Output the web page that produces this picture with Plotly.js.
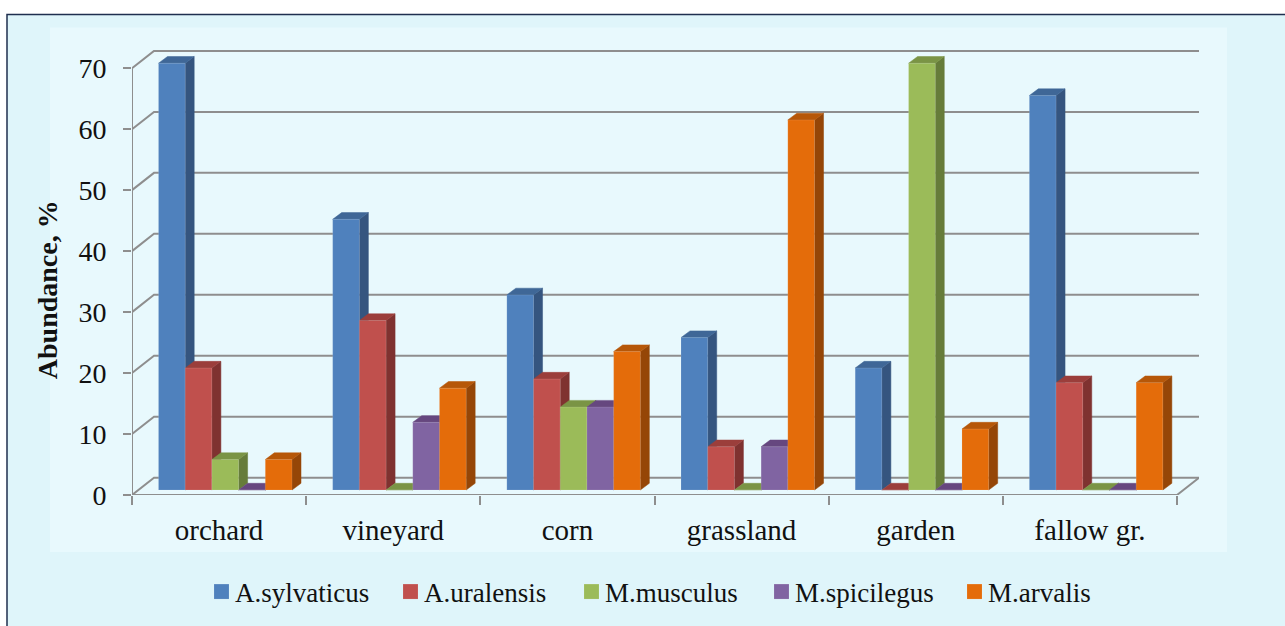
<!DOCTYPE html>
<html>
<head>
<meta charset="utf-8">
<script src="https://cdn.plot.ly/plotly-3.0.1.min.js"></script>
<style>html,body{margin:0;padding:0;background:#fff}#chart{width:1285px;height:626px}</style>
</head>
<body>
<div id="chart"></div>
<script>
const categories = ['orchard', 'vineyard', 'corn', 'grassland', 'garden', 'fallow gr.'];
const sylvaticus = [70, 44.4, 32, 25, 20, 64.7];
const uralensis = [20, 27.8, 18.2, 7.1, 0, 17.6];
const musculus = [5, 0, 13.6, 0, 70, 0];
const spicilegus = [0, 11.1, 13.6, 7.1, 0, 0];
const arvalis = [5, 16.7, 22.7, 60.7, 10, 17.6];
const yTicks = [0, 10, 20, 30, 40, 50, 60, 70];

const seriesNames = ['A.sylvaticus', 'A.uralensis', 'M.musculus', 'M.spicilegus', 'M.arvalis'];
const seriesValues = [sylvaticus, uralensis, musculus, spicilegus, arvalis];
const frontColors = ['#4F81BD', '#C0504D', '#9BBB59', '#8064A2', '#E46C0A'];
const sideColors = ['#35557F', '#7F3230', '#667C3A', '#55426C', '#954607'];
const topColors = ['#3F6797', '#9B3E3B', '#7A9445', '#66477F', '#B65708'];

// layout geometry, in page pixels
const W = 1285, H = 626;
const left = 132, right = 1199, top0 = 49.5, bottom = 495;
const catPx = 174.17, valPx = 6.104;
const wallX = 22 / catPx, wallY = 17.3 / valPx;
const barPx = 26.7, shiftX = 6.17 / catPx, shiftY = 5 / valPx;
const depthX = 9 / catPx, depthY = 6.7 / valPx;
const xMax = (right - left) / catPx, yMax = (bottom - top0) / valPx;
const gridColor = '#8E8E8E';
const fontFamily = '"Liberation Serif", serif';
const centers = categories.map((_, i) => i + 0.5);
const edges = [0].concat(centers.map((c) => c + 0.5));

const traces = [];
function poly(xs, ys, color) {
  traces.push({type: 'scatter', mode: 'lines', x: xs, y: ys, fill: 'toself', fillcolor: color,
    line: {color: color, width: 0.5}, hoverinfo: 'skip', showlegend: false, cliponaxis: false});
}
function grid(xs, ys) {
  traces.push({type: 'scatter', mode: 'lines', x: xs, y: ys, line: {color: gridColor, width: 2},
    hoverinfo: 'skip', showlegend: false, cliponaxis: false});
}
yTicks.forEach((v) => grid([0, wallX, xMax], [v, v + wallY, v + wallY]));
grid([0, 6, xMax], [0, 0, wallY]);
grid([0, 0], [0, 70]);

// side and top faces, painted left to right
centers.forEach((c, i) => {
  seriesValues.forEach((vals, j) => {
    const x0 = c + shiftX + (j - 2.5) * barPx / catPx, x1 = x0 + barPx / catPx;
    const y0 = shiftY, y1 = vals[i] + shiftY;
    poly([x1, x1 + depthX, x1 + depthX, x1, x1], [y0, y0 + depthY, y1 + depthY, y1, y0], sideColors[j]);
    poly([x0, x1, x1 + depthX, x0 + depthX, x0], [y1, y1, y1 + depthY, y1 + depthY, y1], topColors[j]);
  });
});

// front faces on an overlaid subplot, shifted onto the chart floor
seriesValues.forEach((vals, j) => {
  traces.push({type: 'bar', name: seriesNames[j], x: centers, y: vals, xaxis: 'x2', yaxis: 'y2',
    marker: {color: frontColors[j], line: {color: 'rgba(255,255,255,0.12)', width: 1}}});
});

const px = (x) => (x - left) / (right - left);
const py = (y) => (bottom - y) / (bottom - top0);

const layout = {
  width: W, height: H,
  margin: {l: left, r: W - right, t: top0, b: H - bottom, pad: 0},
  paper_bgcolor: '#FFFFFF', plot_bgcolor: 'rgba(0,0,0,0)',
  font: {family: fontFamily, size: 27, color: '#111111'},
  barmode: 'group', bargap: 1 - 5 * barPx / catPx, bargroupgap: 0,
  xaxis: {range: [0, xMax], tickmode: 'array', tickvals: centers, ticktext: categories,
    ticks: '', showgrid: false, zeroline: false, showline: false, ticklabelstandoff: 15,
    tickfont: {family: fontFamily, size: 29, color: '#111111'},
    minor: {tickmode: 'array', tickvals: edges, ticks: 'outside', ticklen: 9, tickwidth: 2, tickcolor: gridColor, showgrid: false}},
  yaxis: {range: [0, yMax], tickmode: 'array', tickvals: yTicks, ticktext: yTicks.map(String),
    ticks: 'outside', ticklen: 8, tickwidth: 2, tickcolor: gridColor, showgrid: false, zeroline: false, showline: false,
    ticklabelstandoff: 11, tickfont: {family: fontFamily, size: 28, color: '#111111'}},
  xaxis2: {overlaying: 'x', anchor: 'y2', range: [-shiftX, xMax - shiftX], visible: false},
  yaxis2: {overlaying: 'y', anchor: 'x2', range: [-shiftY, yMax - shiftY], visible: false},
  legend: {orientation: 'h', xref: 'container', yref: 'container', x: 660 / W, xanchor: 'center',
    y: 1 - 592 / H, yanchor: 'middle',
    font: {family: fontFamily, size: 27, color: '#111111'}, bgcolor: 'rgba(0,0,0,0)', traceorder: 'normal'},
  annotations: [{xref: 'paper', yref: 'paper', x: px(47), y: py(290), xanchor: 'center', yanchor: 'middle',
    text: '<b>Abundance, %</b>', textangle: -90, showarrow: false,
    font: {family: fontFamily, size: 28, color: '#111111'}}],
  shapes: [
    {type: 'rect', xref: 'paper', yref: 'paper', layer: 'below', x0: px(7), x1: px(1290), y0: py(14), y1: py(640),
      fillcolor: '#DFF5FA', line: {color: '#1F2F4F', width: 1.5}},
    {type: 'rect', xref: 'paper', yref: 'paper', layer: 'below', x0: px(50), x1: px(1227), y0: py(27), y1: py(552),
      fillcolor: '#E8F9FD', line: {width: 0}}
  ],
  showlegend: true
};

// legend spacing and swatch size, applied to the library's own legend
const legendStartsPx = [214, 403, 584, 774, 967], swatchHalf = 7.5, swatchGap = 6;
Plotly.newPlot('chart', traces, layout, {displayModeBar: false, responsive: false}).then((gd) => {
  const legend = gd.querySelector('.legend');
  const box = legend.querySelector('.scrollbox');
  box.removeAttribute('clip-path');
  const lx = legend.getBoundingClientRect().left;
  legend.querySelectorAll('.traces').forEach((t, k) => {
    const sw = t.querySelector('.legendpoints path');
    const txt = t.querySelector('text.legendtext');
    sw.setAttribute('d', `M${swatchHalf},${swatchHalf}H${-swatchHalf}V${-swatchHalf}H${swatchHalf}Z`);
    const yTr = /,\s*([-\d.]+)\)/.exec(t.getAttribute('transform'));
    const cx = 20;
    txt.setAttribute('x', cx + swatchHalf + swatchGap);
    t.setAttribute('transform', `translate(${legendStartsPx[k] - lx - (cx - swatchHalf)},${yTr ? yTr[1] : 0})`);
  });
});
</script>
</body>
</html>
